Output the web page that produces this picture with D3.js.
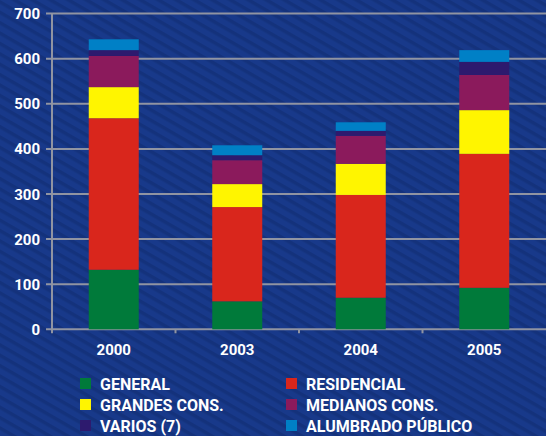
<!DOCTYPE html>
<html>
<head>
<meta charset="utf-8">
<script src="https://cdn.jsdelivr.net/npm/d3@7"></script>
<style>
  html, body { margin: 0; padding: 0; background: #163682; }
  svg { display: block; }
</style>
</head>
<body>
<div id="chart"></div>
<script>
// data
var years     = ["2000", "2003", "2004", "2005"];
var general   = [132, 62, 70, 92];
var residencial = [336, 209, 228, 297];
var grandes   = [69, 51, 69, 97];
var medianos  = [69, 53, 62, 78];
var varios    = [13, 11, 11, 29];
var alumbrado = [24, 22, 19, 26];
var yTicks    = [0, 100, 200, 300, 400, 500, 600, 700];

var seriesNames  = ["GENERAL", "RESIDENCIAL", "GRANDES CONS.", "MEDIANOS CONS.", "VARIOS (7)", "ALUMBRADO PÚBLICO"];
var seriesValues = [general, residencial, grandes, medianos, varios, alumbrado];
var colors       = ["#007a3a", "#d9261c", "#fff500", "#8b1a5c", "#2d1a6e", "#0080c6"];

var width = 546, height = 436;

// build table for the stack
var table = years.map(function(y, i) {
  var row = { year: y };
  seriesNames.forEach(function(s, j) { row[s] = seriesValues[j][i]; });
  return row;
});
var stacked = d3.stack().keys(seriesNames)(table);

var svg = d3.select("#chart").append("svg")
  .attr("width", width)
  .attr("height", height);

// striped background
var pat = svg.append("defs").append("pattern")
  .attr("id", "stripes")
  .attr("patternUnits", "userSpaceOnUse")
  .attr("width", 9).attr("height", 9)
  .attr("patternTransform", "rotate(30)");
pat.append("rect").attr("width", 9).attr("height", 9).attr("fill", "#18398a");
pat.append("rect").attr("width", 9).attr("height", 3.5).attr("fill", "#14327c");

svg.append("rect")
  .attr("width", width).attr("height", height)
  .attr("fill", "url(#stripes)");

var x = d3.scaleBand().domain(years).range([52, 546]);
var y = d3.scaleLinear().domain([0, 700]).range([329.3, 13.6]);
var barW = 50;

var grey = "#9094a2";

// grid lines
svg.append("g").selectAll("line")
  .data(yTicks)
  .enter().append("line")
  .attr("x1", 46).attr("x2", width)
  .attr("y1", function(d) { return y(d); })
  .attr("y2", function(d) { return y(d); })
  .attr("stroke", grey).attr("stroke-width", 2);

// y axis line
svg.append("line")
  .attr("x1", 52).attr("x2", 52)
  .attr("y1", y(700)).attr("y2", y(0) + 4)
  .attr("stroke", grey).attr("stroke-width", 2);

// x axis ticks at band edges
svg.append("g").selectAll("line")
  .data(years.slice(1))
  .enter().append("line")
  .attr("x1", function(d) { return x(d); })
  .attr("x2", function(d) { return x(d); })
  .attr("y1", y(0)).attr("y2", y(0) + 4)
  .attr("stroke", grey).attr("stroke-width", 2);

// bars
svg.append("g").selectAll("g")
  .data(stacked)
  .enter().append("g")
  .attr("fill", function(d, i) { return colors[i]; })
  .selectAll("rect")
  .data(function(d) { return d; })
  .enter().append("rect")
  .attr("x", function(d) { return x(d.data.year) + (x.bandwidth() - barW) / 2; })
  .attr("width", barW)
  .attr("y", function(d) { return y(d[1]); })
  .attr("height", function(d) { return y(d[0]) - y(d[1]); });

// y labels
svg.append("g").selectAll("text")
  .data(yTicks)
  .enter().append("text")
  .attr("x", 40)
  .attr("y", function(d) { return y(d) + 5.5; })
  .attr("text-anchor", "end")
  .attr("font-family", "Roboto, sans-serif")
  .attr("font-weight", 700)
  .attr("font-size", 15)
  .attr("fill", "#fff")
  .text(function(d) { return d; });

// x labels
svg.append("g").selectAll("text")
  .data(years)
  .enter().append("text")
  .attr("x", function(d) { return x(d) + x.bandwidth() / 2; })
  .attr("y", 355)
  .attr("text-anchor", "middle")
  .attr("font-family", "Roboto, sans-serif")
  .attr("font-weight", 700)
  .attr("font-size", 15)
  .attr("fill", "#fff")
  .text(function(d) { return d; });

// legend: three rows, two columns (left column: 0,2,4 / right column: 1,3,5)
var legend = svg.append("g").selectAll("g")
  .data(seriesNames)
  .enter().append("g")
  .attr("transform", function(d, i) {
    var col = i % 2, row = Math.floor(i / 2);
    return "translate(" + (col === 0 ? 80 : 286) + "," + (378 + row * 21) + ")";
  });

legend.append("rect")
  .attr("width", 11).attr("height", 11)
  .attr("fill", function(d, i) { return colors[i]; });

legend.append("text")
  .attr("x", 20)
  .attr("y", 11.5)
  .attr("font-family", "Roboto, sans-serif")
  .attr("font-weight", 700)
  .attr("font-size", 16)
  .attr("fill", "#fff")
  .text(function(d) { return d; });
</script>
</body>
</html>
